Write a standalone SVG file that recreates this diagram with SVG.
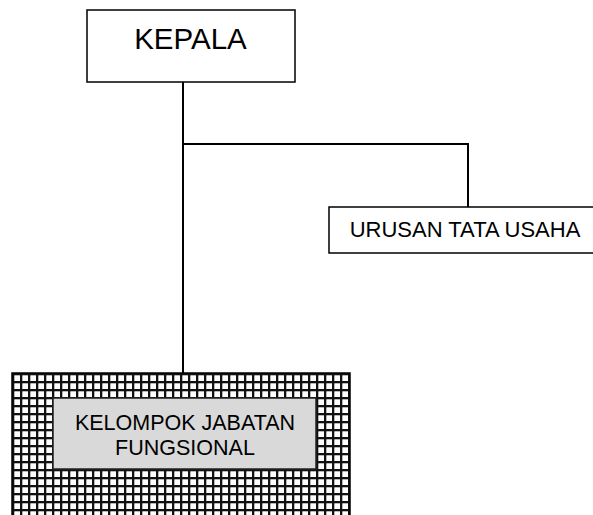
<svg xmlns="http://www.w3.org/2000/svg" width="593" height="515" viewBox="0 0 593 515">
<style>
.box{fill:#fff;stroke:#000;stroke-width:1.5}
.t{font-family:"Liberation Sans",Arial,sans-serif;fill:#000;text-anchor:middle}
.c{fill:none;stroke:#000;stroke-width:2}
</style>
<defs>
<pattern id="grid" x="12" y="373" width="8" height="8" patternUnits="userSpaceOnUse">
<rect width="8" height="8" fill="#fff"/>
<rect x="0" y="0" width="2.3" height="8" fill="#111"/>
<rect x="0" y="0" width="8" height="2.3" fill="#111"/>
</pattern>
</defs>
<rect width="593" height="515" fill="#fff"/>
<g id="connectors">
<path class="c" d="M183 82 V373"/>
<path class="c" d="M183 144 H468 V207"/>
</g>
<g id="kepala">
<rect class="box" x="87" y="10" width="208" height="72"/>
<text class="t" x="190.5" y="49" font-size="29.5">KEPALA</text>
</g>
<g id="urusan">
<rect class="box" x="329" y="207" width="280" height="46"/>
<text class="t" x="465" y="237" font-size="22">URUSAN TATA USAHA</text>
</g>
<g id="kelompok">
<rect x="12" y="373" width="338" height="150" fill="url(#grid)" stroke="#000" stroke-width="1.5"/>
<rect x="53" y="398" width="263" height="71" fill="#d9d9d9" stroke="#222" stroke-width="1.5"/>
<text class="t" x="185" y="430" font-size="21.5">KELOMPOK JABATAN</text>
<text class="t" x="185" y="455" font-size="21.5">FUNGSIONAL</text>
</g>
</svg>
